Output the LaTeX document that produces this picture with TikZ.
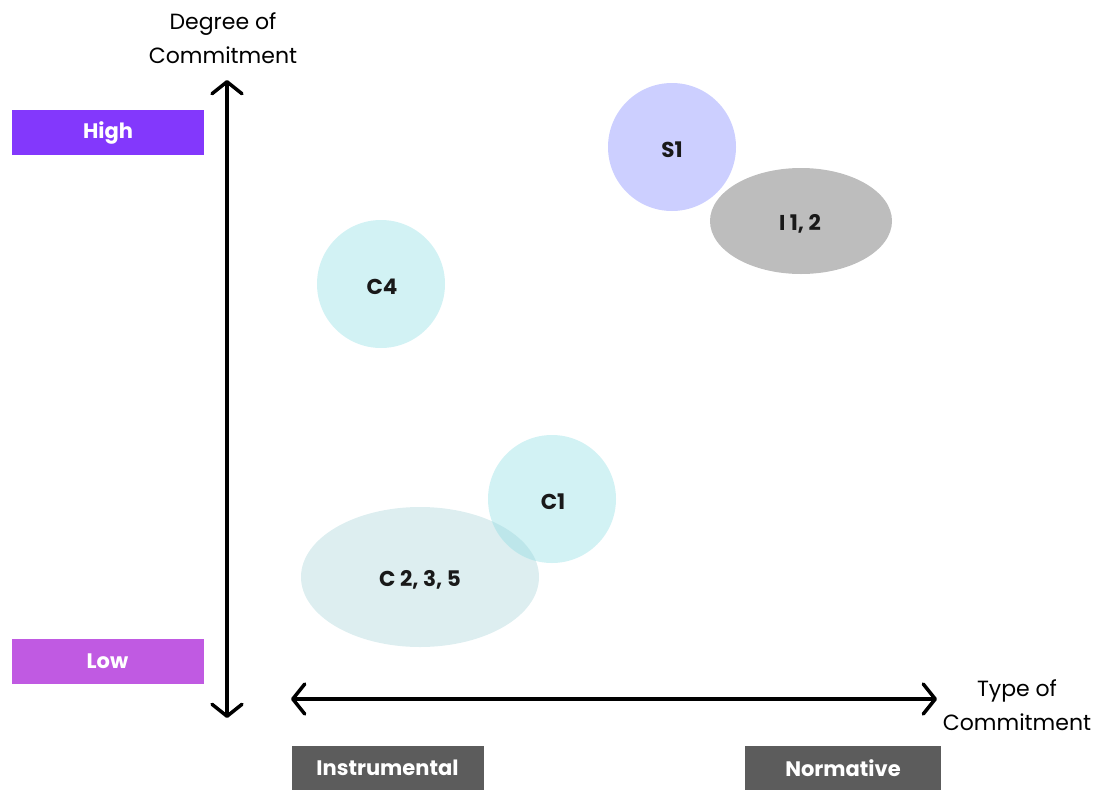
\documentclass[tikz,border=0pt]{standalone}
\usepackage{fontspec}
\setmainfont{Poppins}
\usetikzlibrary{arrows.meta}
\definecolor{highc}{HTML}{8338FC}
\definecolor{lowc}{HTML}{C05AE2}
\definecolor{tagc}{HTML}{5C5C5C}
\definecolor{sc}{HTML}{CCCFFF}
\definecolor{ic}{HTML}{BDBDBD}
\definecolor{cc}{HTML}{D2F2F4}
\definecolor{cbig}{HTML}{DDEEF0}
\definecolor{cover}{HTML}{BDE6EA}
\begin{document}
\begin{tikzpicture}[x=1pt,y=-1pt,
  tag/.style={minimum width=192pt,minimum height=45pt,inner sep=0pt,text=white,font=\fontsize{21}{24}\selectfont\bfseries},
  blob/.style={font=\fontsize{21.5}{24}\selectfont\bfseries,text=black!90},
  axislbl/.style={align=center,font=\fontsize{22}{34}\selectfont},
  axis/.style={line width=3.5pt,line cap=round,{Straight Barb[length=12pt,width=30pt,line width=3.5pt,round]}-{Straight Barb[length=12pt,width=30pt,line width=3.5pt,round]}}]
\useasboundingbox (0,0) rectangle (1106,790);
% category tags
\node[tag,fill=highc] (high) at (108,132.5) {High};
\node[tag,fill=lowc] (low) at (107.5,661.5) {Low};
\node[tag,fill=tagc] (instr) at (387.5,768) {Instrumental};
\node[tag,fill=tagc,minimum width=196pt] (norm) at (843,768) {Normative};
% axes
\coordinate (ytop) at (227,80);
\coordinate (ybot) at (227,718);
\coordinate (xl) at (291,699);
\coordinate (xr) at (937,699);
\draw[axis] (ybot) -- (ytop);
\draw[axis] (xl) -- (xr);
\node[axislbl] (ylbl) at (223,38) {Degree of\\Commitment};
\node[axislbl] (xlbl) at (1017,705) {Type of\\Commitment};
% clusters
\fill[sc] (672,147) circle (64);
\node[blob] (s1) at (672,150) {S1};
\fill[ic] (801,221) ellipse (91 and 53);
\node[blob] (i12) at (800,224) {I 1, 2};
\fill[cc] (381,284) circle (64);
\node[blob] (c4) at (382,287) {C4};
\fill[cbig] (420,577) ellipse (119 and 70);
\fill[cc] (552,499) circle (64);
\begin{scope}
  \clip (420,577) ellipse (119 and 70);
  \fill[cover] (552,499) circle (64);
\end{scope}
\node[blob] (c1) at (553,502) {C1};
\node[blob] (c235) at (420,580) {C 2, 3, 5};
\end{tikzpicture}
\end{document}
